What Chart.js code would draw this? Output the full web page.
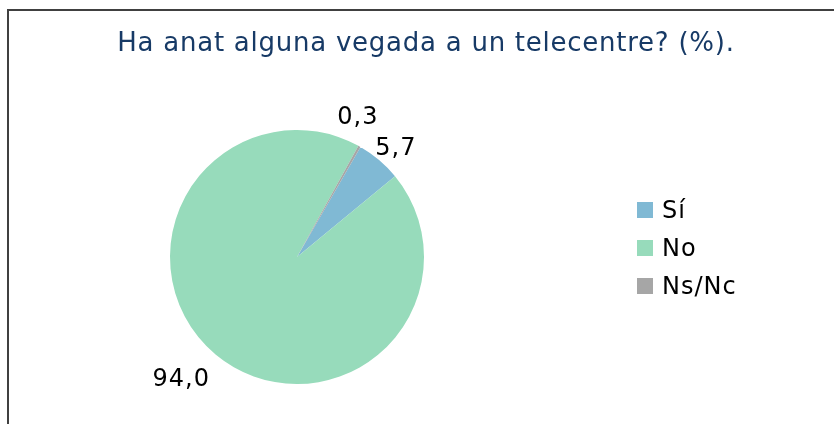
<!DOCTYPE html>
<html>
<head>
<meta charset="utf-8">
<script src="https://cdn.jsdelivr.net/npm/chart.js@4.4.1/dist/chart.umd.min.js"></script>
<style>
    body { margin: 0; background: #fff; overflow: hidden; }
    #marc { position: absolute; left: 7px; top: 9px; width: 900px; height: 500px; border: 2px solid #404040; }
    #pieChart { position: absolute; left: 0; top: 0; }
</style>
</head>
<body>
<div id="marc"></div>
<canvas id="pieChart" width="834" height="424"></canvas>
<script>
( function () {
    "use strict";

    var titol = "Ha anat alguna vegada a un telecentre? (%).";
    var categories = [ "Sí", "No", "Ns/Nc" ];
    var valors = [ 5.7, 94.0, 0.3 ];
    var colors = [ "#80b9d4", "#97dbbb", "#a6a6a6" ];

    // where the value labels sit: distance out from the rim and sideways shift (px)
    var distEtiqueta = [ 20, 41, 25 ];
    var despEtiqueta = [ 5, 11, -16 ];

    var textos = {
        id: 'textos',
        afterDraw: function ( chart ) {
            var ctx = chart.ctx;
            var meta = chart.getDatasetMeta( 0 );
            ctx.save();

            // title
            ctx.font = '26px "DejaVu Sans"';
            ctx.letterSpacing = '0.75px';
            ctx.fillStyle = '#173a66';
            ctx.textAlign = 'center';
            ctx.textBaseline = 'alphabetic';
            ctx.fillText( titol, 426, 51 );

            // value labels
            ctx.font = '24px "DejaVu Sans"';
            ctx.letterSpacing = '1px';
            ctx.fillStyle = '#000';
            ctx.textBaseline = 'middle';
            meta.data.forEach( function ( arc, i ) {
                var p = arc.getProps( [ 'x', 'y', 'startAngle', 'endAngle', 'outerRadius' ], true );
                var mid = ( p.startAngle + p.endAngle ) / 2;
                var d = p.outerRadius + distEtiqueta[ i ];
                var x = p.x + Math.cos( mid ) * d - Math.sin( mid ) * despEtiqueta[ i ];
                var y = p.y + Math.sin( mid ) * d + Math.cos( mid ) * despEtiqueta[ i ];
                ctx.fillText( valors[ i ].toFixed( 1 ).replace( '.', ',' ), x, y + 1 );
            } );

            // legend
            ctx.textAlign = 'left';
            ctx.textBaseline = 'alphabetic';
            categories.forEach( function ( c, i ) {
                ctx.fillStyle = colors[ i ];
                ctx.fillRect( 637, 202 + i * 38, 16, 16 );
                ctx.fillStyle = '#000';
                ctx.fillText( c, 662, 218 + i * 38 );
            } );
            ctx.restore();
        }
    };

    var ctx = document.getElementById( "pieChart" );
    var myChart = new Chart( ctx, {
        type: 'pie',
        data: {
            labels: categories,
            datasets: [ {
                data: valors,
                backgroundColor: colors,
                borderWidth: 0,
                hoverBorderWidth: 0,
                hoverOffset: 0
            } ]
        },
        options: {
            responsive: false,
            devicePixelRatio: 1,
            animation: false,
            rotation: 30,
            layout: {
                padding: { left: 170, right: 410, top: 130, bottom: 40 }
            },
            plugins: {
                legend: { display: false },
                tooltip: { enabled: false }
            }
        },
        plugins: [ textos ]
    } );

} )();
</script>
</body>
</html>
